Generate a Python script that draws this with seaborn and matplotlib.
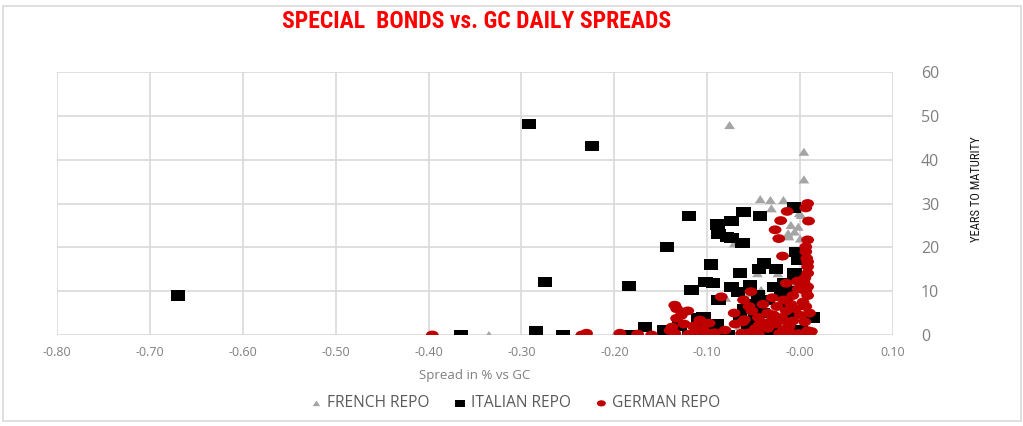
import numpy as np
import pandas as pd
import matplotlib
matplotlib.use('Agg')
import matplotlib.pyplot as plt
import seaborn as sns
from matplotlib.path import Path
from matplotlib.transforms import Affine2D
from matplotlib.patches import Rectangle

# French repo (spread, years to maturity)
french_x = [-0.335, -0.285, -0.26, -0.20, -0.175, -0.13, -0.09, -0.05,
            -0.076, 0.004, 0.004, -0.043, -0.018, -0.031, -0.001, -0.010,
            -0.002, -0.006, -0.013, 0.0, -0.071, -0.040, -0.046, -0.024,
            -0.042, -0.028, -0.055, -0.080, -0.060, -0.020, -0.010, -0.035,
            -0.065, -0.110, -0.003, -0.008, -0.032, 0.001, -0.012]
french_y = [0, 0, 0, 0, 0, 0, 0.4, 0,
            47.9, 41.8, 35.5, 31, 30.8, 28.9, 27.8, 25.1,
            24.7, 23.6, 23.2, 22.0, 20.9, 16.4, 14.1, 14.1,
            10.3, 8.7, 9.5, 8.5, 5, 3, 6, 2,
            2, 1.5, 18, 12, 30.8, 27.4, 22.5]

# Italian repo
italian_x = [-0.67, -0.292, -0.224, -0.275, -0.284, -0.365, -0.255, -0.184,
             -0.184, -0.167, -0.146, -0.143, -0.120, -0.117, -0.104, -0.103,
             -0.096, -0.102, -0.094, -0.089, -0.088, -0.088, -0.079, -0.074,
             -0.074, -0.074, -0.078, -0.067, -0.065, -0.062, -0.061, -0.056,
             -0.054, -0.049, -0.043, -0.044, -0.039, -0.040, -0.035, -0.028,
             -0.026, -0.020, -0.020, -0.017, -0.015, -0.011, -0.007, -0.006,
             -0.004, -0.002, 0.001, 0.003, 0.014, -0.060, -0.055, -0.045,
             -0.065, -0.030, -0.035, -0.050, -0.045, -0.010, -0.005, -0.120,
             -0.110, -0.106, -0.060, -0.090, -0.085, -0.130]
italian_y = [9, 48.2, 43.2, 12, 1, 0, 0, 11.2,
             0, 1.9, 1.1, 20.1, 27.2, 10.3, 4.2, 0.4,
             16.1, 12, 11.9, 25.2, 23, 8, 22.3, 22.2,
             26.1, 11, 0, 9.9, 14.2, 21, 28.1, 1.1,
             11.4, 4.2, 27.2, 15, 16.3, 5, 8, 11,
             15, 9.5, 0.4, 11.9, 7.3, 4.2, 29.1, 14.1,
             19, 17.1, 1.1, 0, 4, 6, 3, 2,
             4.5, 1, 0, 7, 9, 10, 13, 0,
             3.8, 1.5, 0, 2.5, 0.5, 2]

# German repo
german_x = [-0.396, -0.230, -0.235, -0.194, -0.160, -0.175,
            0.008, 0.006, -0.014, -0.021, 0.009, -0.027, -0.023, 0.008,
            0.006, -0.019, 0.008, 0.008, 0.008, 0.005, -0.003, 0.008,
            0.006, 0.008, -0.053, -0.061, -0.085, -0.071, -0.052, -0.060,
            -0.135, -0.133, -0.128, -0.121, -0.133, -0.125, -0.138, -0.108,
            -0.098, -0.115, -0.110, -0.120, -0.135, -0.092, -0.081, -0.063,
            -0.045, -0.035, -0.028, -0.020, -0.015, -0.010, -0.005, 0.0,
            0.005, 0.008, -0.002, -0.012, -0.022, -0.030, -0.040, -0.048,
            -0.055, -0.025, -0.035, -0.040, -0.045, -0.012, 0.003, -0.008,
            -0.018, -0.030, -0.055, -0.070, -0.100, -0.105, -0.140, 0.007,
            0.006, 0.004, -0.002, -0.008, -0.018, 0.010, -0.062, -0.029,
            -0.019, -0.026, 0.012, -0.044, -0.047, -0.015, 0.006]
german_y = [0, 0.4, 0, 0.4, 0, 0.2,
            30, 29, 28.2, 26.1, 26, 24, 22, 21.7,
            20.1, 18, 16.7, 15.6, 14.1, 13, 12.3, 11,
            10, 9, 9.9, 8, 8.7, 5, 5.5, 3.5,
            6.8, 6, 4.5, 5.5, 3.8, 2.5, 1.8, 3.4,
            2.7, 2, 1, 0.2, 0.4, 0.5, 1.1, 0.4,
            0.2, 1.5, 2.5, 4, 5.5, 7, 6, 4.5,
            3, 1, 0.3, 0.8, 0.4, 3.5, 2.8, 1.5,
            0.5, 6.5, 5, 7, 4, 2, 7.5, 9,
            8, 8.5, 6.5, 2.5, 0.4, 1.5, 1, 17.5,
            19, 12, 10.5, 3.2, 1.2, 5, 3, 4.6,
            3.4, 2.7, 0.8, 2.3, 0.4, 11.8, 6.5]

french = pd.DataFrame({'spread': french_x, 'years': french_y})
italian = pd.DataFrame({'spread': italian_x, 'years': italian_y})
german = pd.DataFrame({'spread': german_x, 'years': german_y})

# wide marker shapes (the original looks stretched horizontally)
rect_marker = Path([(-1.4, -1), (1.4, -1), (1.4, 1), (-1.4, 1), (-1.4, -1)],
                   [Path.MOVETO, Path.LINETO, Path.LINETO, Path.LINETO, Path.CLOSEPOLY])
ellipse_marker = Path.unit_circle().transformed(Affine2D().scale(1.45, 1.0))
tri_marker = Path([(-1.2, -0.9), (1.2, -0.9), (0, 0.9), (-1.2, -0.9)],
                  [Path.MOVETO, Path.LINETO, Path.LINETO, Path.CLOSEPOLY])

sns.set_style('white')
plt.rcParams['font.family'] = ['Open Sans', 'DejaVu Sans']
narrow = ['Roboto Condensed', 'Liberation Sans Narrow', 'Roboto', 'DejaVu Sans']

fig = plt.figure(figsize=(10.23, 4.26), dpi=100)
ax = fig.add_axes([0.0557, 0.2136, 0.8173, 0.6174])

sns.scatterplot(data=french, x='spread', y='years', marker=tri_marker, s=60,
                color='#A5A5A5', edgecolor='none', linewidth=0, ax=ax, label='FRENCH REPO', zorder=3)
sns.scatterplot(data=italian, x='spread', y='years', marker=rect_marker, s=105,
                color='#000000', edgecolor='none', linewidth=0, ax=ax, label='ITALIAN REPO', zorder=4)
sns.scatterplot(data=german, x='spread', y='years', marker=ellipse_marker, s=85,
                color='#C00000', edgecolor='none', linewidth=0, ax=ax, label='GERMAN REPO', zorder=5)

ax.set_xlim(-0.80, 0.10)
ax.set_ylim(0, 60)
ax.set_xticks(np.arange(-0.8, 0.101, 0.1))
ax.set_xticklabels(['%.2f' % v for v in np.arange(-0.8, 0.101, 0.1)])
ax.set_yticks(range(0, 61, 10))
ax.yaxis.tick_right()
ax.grid(True, color='#D9D9D9', linewidth=1.2)
ax.set_axisbelow(True)
for sp in ax.spines.values():
    sp.set_visible(False)
ax.tick_params(axis='x', length=0, pad=8, labelsize=9, labelcolor='#7F7F7F')
ax.tick_params(axis='y', length=0, pad=20, labelsize=11.5, labelcolor='#7F7F7F')

ax.set_xlabel('Spread in % vs GC', fontsize=9.5, color='#7F7F7F', labelpad=7)
ax.set_ylabel('')
fig.text(0.955, 0.555, 'YEARS TO MATURITY', rotation=90, ha='center', va='center',
         fontsize=9, color='#1A1A1A', family=narrow)

fig.text(0.466, 0.95, 'SPECIAL  BONDS vs. GC DAILY SPREADS', ha='center', va='center',
         fontsize=17, fontweight='bold', color='#FF0000', family=narrow)

leg = ax.legend(loc='center', bbox_to_anchor=(0.5015, 0.053), bbox_transform=fig.transFigure,
                ncol=3, frameon=False, handletextpad=0.0, columnspacing=1.25,
                handlelength=1.4, markerscale=0.7, prop={'family': ['Open Sans', 'DejaVu Sans'], 'size': 11.2})
for t in leg.get_texts():
    t.set_color('#595959')

fig.patches.append(Rectangle((0.003, 0.012), 0.995, 0.975, transform=fig.transFigure,
                             fill=False, edgecolor='#D9D9D9', linewidth=1.2))

fig.savefig('out.png', dpi=100)
